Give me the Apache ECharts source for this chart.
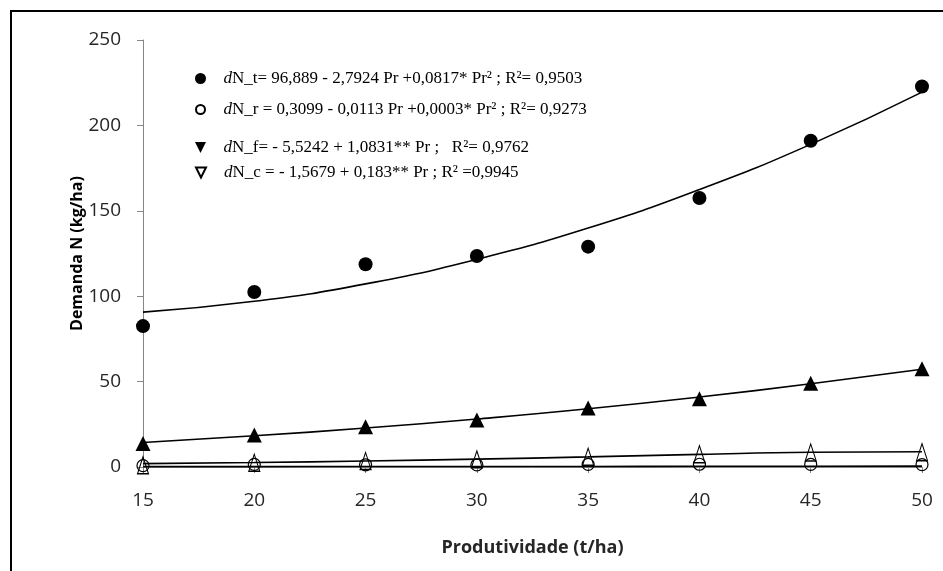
<!DOCTYPE html>
<html>
<head>
<meta charset="utf-8">
<script src="https://cdn.jsdelivr.net/npm/echarts@6/dist/echarts.min.js"></script>
<style>
  html, body { margin: 0; padding: 0; background: #fff; }
  #chart { width: 943px; height: 571px; }
</style>
</head>
<body>
<div id="chart"></div>
<script>
// produtividade (t/ha)
const produtividade = [15, 20, 25, 30, 35, 40, 45, 50];

// valores observados (kg/ha)
const nTotal = [82.5, 102.5, 118.7, 123.5, 129, 157.5, 191, 222.8];
const nRaiz = [0.8, 1.5, 1.3, 1.2, 1.5, 1.6, 1.5, 1.4];
const nFolha = [13.8, 18.7, 23.5, 27.5, 34.5, 40, 49, 57.5];
const nCaule = [1, 2.5, 3.5, 4.5, 6, 7.5, 8.5, 8.7];

// linhas de tendência
const tendTotal = [90.7, 97, 107.2, 121.6, 139.9, 162.4, 188.9, 219.5];
const tendRaiz = [0.2, 0.2, 0.3, 0.3, 0.3, 0.4, 0.4, 0.5];
const tendFolha = [14.3, 18.3, 22.8, 28.1, 34.1, 41, 48.7, 57.2];
const tendCaule = [2, 2.6, 3.5, 4.6, 5.9, 7.4, 8.6, 8.9];

const yTicks = [0, 50, 100, 150, 200, 250];

const legendTexts = {
  Nt: ['d', 'N_t= 96,889 - 2,7924 Pr +0,0817* Pr² ; R²= 0,9503'],
  Nr: ['d', 'N_r = 0,3099 - 0,0113 Pr +0,0003* Pr² ; R²= 0,9273'],
  Nf: ['d', 'N_f= - 5,5242 + 1,0831** Pr ;   R²= 0,9762'],
  Nc: ['d', 'N_c = - 1,5679 + 0,183** Pr ; R² =0,9945']
};

const pairs = arr => produtividade.map((x, i) => [x, arr[i]]);

const chart = echarts.init(document.getElementById('chart'));

const serif = 'Liberation Serif';
const rich = {
  i: { fontFamily: serif, fontStyle: 'italic', fontSize: 17, color: '#000', padding: [0, 0, 0, 6] },
  t: { fontFamily: serif, fontSize: 17, color: '#000' }
};
const legendFmt = name => '{i|' + legendTexts[name][0] + '}{t|' + legendTexts[name][1] + '}';
const downTri = 'path://M0,0 L10,0 L5,10 Z';

function legendRow(name, top, icon, h) {
  return {
    data: [name],
    left: 190,
    top: top,
    icon: icon,
    itemWidth: 24,
    itemHeight: h,
    formatter: legendFmt,
    textStyle: { rich: rich },
    selectedMode: false
  };
}

const trendStyle = { color: '#000', width: 1.6 };
const openMark = { color: 'rgba(255,255,255,0)', borderColor: '#000', borderWidth: 1.2, opacity: 1 };

chart.setOption({
  animation: false,
  backgroundColor: '#fff',
  graphic: [{
    type: 'rect',
    shape: { x: 11, y: 11, width: 940, height: 570 },
    style: { fill: 'none', stroke: '#000', lineWidth: 2 },
    silent: true
  }],
  grid: { left: 143, right: 21, top: 40, bottom: 104 },
  legend: [
    legendRow('Nt', 65, 'circle', 11),
    legendRow('Nr', 96, 'circle', 9),
    legendRow('Nf', 134, downTri, 11),
    legendRow('Nc', 159, downTri, 10)
  ],
  xAxis: {
    type: 'value',
    min: 15,
    max: 50,
    interval: 5,
    name: 'Produtividade (t/ha)',
    nameLocation: 'middle',
    nameGap: 72,
    nameTextStyle: { fontFamily: 'Open Sans', fontWeight: 'bold', fontSize: 18, color: '#262626' },
    axisLine: { onZero: false, lineStyle: { color: '#868686', width: 1 } },
    axisTick: { show: true, length: 6, lineStyle: { color: '#868686' } },
    axisLabel: { margin: 24, fontFamily: 'Open Sans', fontSize: 19, color: '#262626' },
    splitLine: { show: false }
  },
  yAxis: {
    type: 'value',
    min: 0,
    max: 250,
    interval: 50,
    name: 'Demanda N (kg/ha)',
    nameLocation: 'middle',
    nameGap: 58,
    nameMoveOverlap: false,
    nameTextStyle: { fontFamily: 'Open Sans', fontWeight: 'bold', fontSize: 16, color: '#000' },
    axisLine: { show: true, lineStyle: { color: '#868686', width: 1 } },
    axisTick: { show: true, length: 6, lineStyle: { color: '#868686' } },
    axisLabel: {
      margin: 22,
      fontFamily: 'Open Sans',
      fontSize: 19,
      color: '#262626',
      formatter: v => (yTicks.indexOf(v) >= 0 ? String(v) : '')
    },
    splitLine: { show: false }
  },
  series: [
    {
      name: 'tendNr', type: 'line', data: pairs(tendRaiz), smooth: true,
      showSymbol: false, lineStyle: trendStyle, z: 1
    },
    {
      name: 'tendNc', type: 'line', data: pairs(tendCaule), smooth: true,
      showSymbol: false, lineStyle: trendStyle, z: 1
    },
    {
      name: 'tendNf', type: 'line', data: pairs(tendFolha), smooth: true,
      showSymbol: false, lineStyle: trendStyle, z: 1
    },
    {
      name: 'tendNt', type: 'line', data: pairs(tendTotal), smooth: true,
      showSymbol: false, lineStyle: trendStyle, z: 1
    },
    {
      name: 'Nr', type: 'scatter', data: pairs(nRaiz), symbol: 'circle', symbolSize: 12,
      itemStyle: openMark, z: 3
    },
    {
      name: 'Nc', type: 'scatter', data: pairs(nCaule), symbol: 'triangle', symbolSize: [11, 17],
      symbolKeepAspect: false,
      itemStyle: openMark, z: 3
    },
    {
      name: 'Nf', type: 'scatter', data: pairs(nFolha), symbol: 'triangle', symbolSize: [15, 15],
      itemStyle: { color: '#000', opacity: 1 }, z: 3
    },
    {
      name: 'Nt', type: 'scatter', data: pairs(nTotal), symbol: 'circle', symbolSize: 14,
      itemStyle: { color: '#000', opacity: 1 }, z: 3
    }
  ]
});
</script>
</body>
</html>
